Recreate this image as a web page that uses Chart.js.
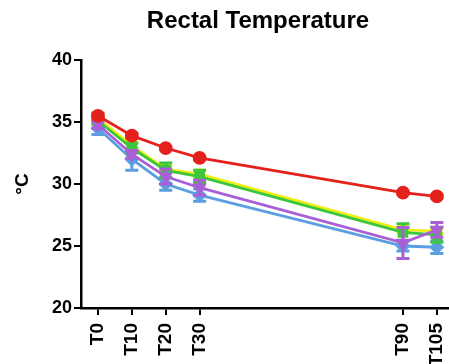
<!DOCTYPE html>
<html>
<head>
<meta charset="utf-8">
<script src="https://cdn.jsdelivr.net/npm/chart.js@4"></script>
<style>
  html, body { margin: 0; padding: 0; background: #fff; overflow: hidden; width: 449px; height: 364px; }
  #wrap { width: 457px; height: 364px; }
</style>
</head>
<body>
<div id="wrap"><canvas id="mycanvas"></canvas></div>
<script>
// sample times as placed on the axis, and their labels
var times = [0, 10, 20, 30, 90, 100];
var timeLabels = ['T0', 'T10', 'T20', 'T30', 'T90', 'T105'];
var yTicks = [20, 25, 30, 35, 40];

// group means and error (SEM)
var redMean = [35.5, 33.9, 32.9, 32.1, 29.3, 29.0];
var redErr = [0.2, 0.2, 0.1, 0.1, 0.1, 0.1];
var yellowMean = [35.3, 33.1, 31.2, 30.8, 26.3, 26.2];
var yellowErr = [0.2, 0.3, 0.3, 0.3, 0.2, 0.2];
var greenMean = [35.1, 32.9, 31.1, 30.6, 26.1, 25.9];
var greenErr = [0.3, 0.4, 0.6, 0.5, 0.7, 0.6];
var purpleMean = [34.8, 32.4, 30.6, 29.7, 25.25, 26.3];
var purpleErr = [0.3, 0.3, 0.6, 0.6, 1.25, 0.6];
var blueMean = [34.5, 32.0, 30.0, 29.1, 25.0, 24.9];
var blueErr = [0.5, 0.9, 0.5, 0.5, 0.4, 0.5];

function pts(mean) {
  var out = [];
  for (var i in times) out.push({ x: times[i], y: mean[i] });
  return out;
}

function series(mean, err, color, shape, rot, order) {
  return {
    data: pts(mean),
    err: err,
    borderColor: color,
    backgroundColor: color,
    pointBackgroundColor: color,
    pointBorderColor: color,
    pointStyle: shape,
    rotation: rot,
    pointRadius: 5.5,
    borderWidth: 2.8,
    tension: 0,
    order: order
  };
}

// error bars drawn through the scales
var errorBars = {
  id: 'errorBars',
  beforeDatasetDraw: function (chart, args) {
    var ds = chart.data.datasets[args.index];
    var xs = chart.scales.x, ys = chart.scales.y;
    var ctx = chart.ctx;
    ctx.save();
    ctx.strokeStyle = ds.borderColor;
    ctx.lineWidth = 3;
    for (var i = 0; i < ds.data.length; i++) {
      var px = xs.getPixelForValue(ds.data[i].x);
      var top = ys.getPixelForValue(ds.data[i].y + ds.err[i]);
      var bot = ys.getPixelForValue(ds.data[i].y - ds.err[i]);
      ctx.beginPath();
      ctx.moveTo(px, top); ctx.lineTo(px, bot);
      ctx.moveTo(px - 6.5, top); ctx.lineTo(px + 6.5, top);
      ctx.moveTo(px - 6.5, bot); ctx.lineTo(px + 6.5, bot);
      ctx.stroke();
    }
    ctx.restore();
  }
};

var topTitle = {
  id: 'topTitle',
  afterDraw: function (chart) {
    var ctx = chart.ctx;
    ctx.save();
    ctx.fillStyle = '#000';
    ctx.font = 'bold 24px "Liberation Sans", Arial, sans-serif';
    ctx.textAlign = 'center';
    ctx.textBaseline = 'middle';
    ctx.fillText('Rectal Temperature', 258, 21);
    ctx.restore();
  }
};

var tickFont = { family: '"Liberation Sans", Arial, sans-serif', size: 18, weight: 'bold' };

var ctx = document.getElementById('mycanvas');
var chart = new Chart(ctx, {
  type: 'line',
  data: {
    datasets: [
      series(redMean, redErr, '#e4211c', 'circle', 0, 1),
      series(purpleMean, purpleErr, '#a95fd5', 'triangle', 180, 2),
      series(greenMean, greenErr, '#3cc63c', 'rect', 0, 3),
      series(yellowMean, yellowErr, '#eeee10', 'rect', 0, 4),
      series(blueMean, blueErr, '#5b9fe2', 'rectRot', 0, 5)
    ]
  },
  options: {
    responsive: true,
    maintainAspectRatio: false,
    animation: false,
    layout: { padding: { top: 60, right: 0, bottom: 0, left: 0 } },
    plugins: { legend: { display: false }, tooltip: { enabled: false }, title: { display: false } },
    scales: {
      x: {
        type: 'linear',
        min: -5,
        max: 103.5,
        afterBuildTicks: function (scale) {
          scale.ticks = times.map(function (t) { return { value: t }; });
        },
        afterFit: function (scale) {
          scale.height = 56;
          scale.paddingLeft = 0;
          scale.paddingRight = 0;
        },
        ticks: {
          autoSkip: false,
          minRotation: 90,
          maxRotation: 90,
          padding: 8,
          color: '#000',
          font: { family: '"Liberation Sans", Arial, sans-serif', size: 19, weight: 'bold' },
          callback: function (v) { return timeLabels[times.indexOf(v)]; }
        },
        grid: { drawOnChartArea: false, drawTicks: true, tickLength: 7, color: '#000', lineWidth: 2 },
        border: { display: true, color: '#000', width: 2.5 }
      },
      y: {
        min: 20,
        max: 40,
        afterBuildTicks: function (scale) {
          scale.ticks = yTicks.map(function (t) { return { value: t }; });
        },
        afterFit: function (scale) {
          scale.width = 81;
          scale.paddingTop = 0;
          scale.paddingBottom = 0;
        },
        ticks: {
          padding: 2,
          color: '#000',
          font: tickFont
        },
        grid: { drawOnChartArea: false, drawTicks: true, tickLength: 7, color: '#000', lineWidth: 2 },
        border: { display: true, color: '#000', width: 2.5 },
        title: {
          display: true,
          text: '°C',
          color: '#000',
          padding: { top: 11, bottom: 0 },
          font: { family: '"Liberation Sans", Arial, sans-serif', size: 19, weight: 'bold' }
        }
      }
    }
  },
  plugins: [errorBars, topTitle]
});
</script>
</body>
</html>
